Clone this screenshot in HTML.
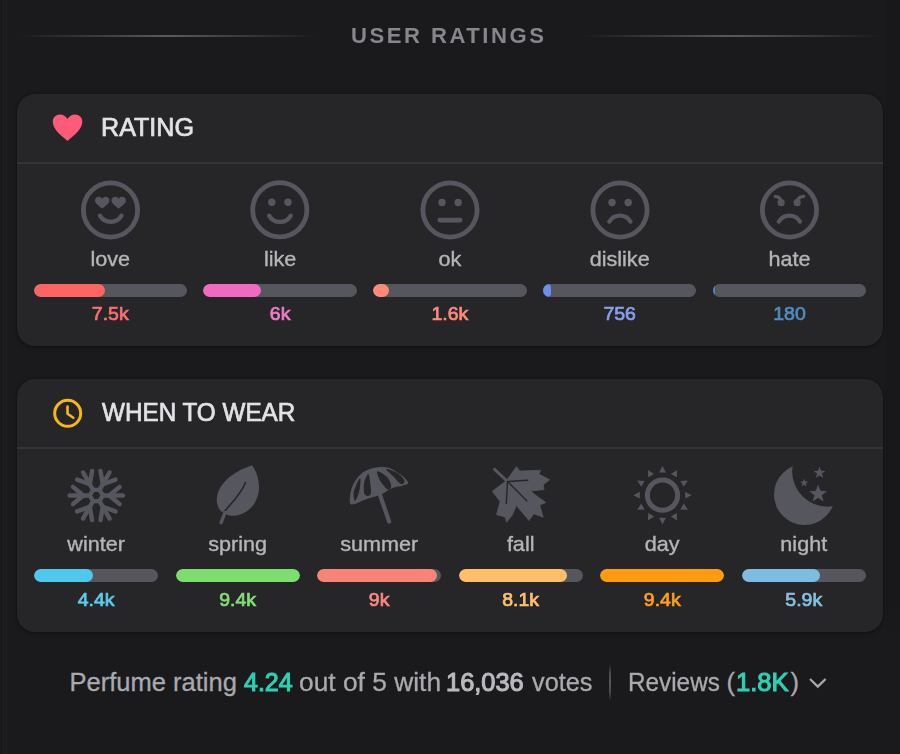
<!DOCTYPE html>
<html><head><meta charset="utf-8">
<style>
*{margin:0;padding:0;box-sizing:border-box}
html,body{width:900px;height:754px;overflow:hidden;background:#1a1a1d;font-family:"Liberation Sans",sans-serif}
.t{position:absolute;white-space:nowrap;line-height:30px;transform-origin:0 0}
.c{width:200px;text-align:center;transform-origin:50% 0}
#strip{position:absolute;left:886px;top:0;width:14px;height:754px;background:linear-gradient(180deg,#18181b 0,#18181b 600px,#1a1a1d 660px)}
.hline{position:absolute;top:35px;height:2px}
.card{position:absolute;left:17px;width:866px;background:#262629;border-radius:18px;box-shadow:0 0 1.5px rgba(0,0,0,0.5),0 2px 4px rgba(0,0,0,0.25)}
.card .div{position:absolute;left:0;right:0;height:2px;background:#343438}
.track{position:absolute;border-radius:7px;background:#56565f;overflow:hidden}
.fill{position:absolute;left:0;top:0;height:100%;border-radius:7px}
#ov{position:absolute;left:0;top:0}
</style></head><body>
<div id="strip"></div><div style="position:absolute;left:3px;top:0;width:1px;height:754px;background:#1e1e21"></div><div style="position:absolute;left:6px;top:0;width:1px;height:754px;background:#1e1e21"></div>
<div class="hline" style="left:18px;width:300px;background:linear-gradient(90deg,rgba(90,90,94,0),#5a5a5e 50%,rgba(90,90,94,0))"></div>
<div class="hline" style="left:582px;width:300px;background:linear-gradient(90deg,rgba(90,90,94,0),#5a5a5e 50%,rgba(90,90,94,0))"></div>
<div class="card" style="top:94px;height:251.5px"><div class="div" style="top:68px"></div></div>
<div class="card" style="top:379px;height:253px"><div class="div" style="top:68px"></div></div>
<div class="track" style="left:33.65px;top:283.8px;width:153.3px;height:12.9px"><div class="fill" style="width:71.4px;background:#ff6464"></div></div>
<div class="track" style="left:203.45px;top:283.8px;width:153.3px;height:12.9px"><div class="fill" style="width:58px;background:#f06ac0"></div></div>
<div class="track" style="left:373.25px;top:283.8px;width:153.3px;height:12.9px"><div class="fill" style="width:16px;background:#ff8a7a"></div></div>
<div class="track" style="left:543.05px;top:283.8px;width:153.3px;height:12.9px"><div class="fill" style="width:8px;background:#6e8ef0"></div></div>
<div class="track" style="left:712.85px;top:283.8px;width:153.3px;height:12.9px"><div class="fill" style="width:2.6px;background:#4a88c0"></div></div>
<div class="track" style="left:34.00px;top:568.7px;width:124.2px;height:13px"><div class="fill" style="width:58.7px;background:#4fc8ec"></div></div>
<div class="track" style="left:175.53px;top:568.7px;width:124.2px;height:13px"><div class="fill" style="width:124.2px;background:#7ddd6e"></div></div>
<div class="track" style="left:317.06px;top:568.7px;width:124.2px;height:13px"><div class="fill" style="width:120px;background:#f88478"></div></div>
<div class="track" style="left:458.59px;top:568.7px;width:124.2px;height:13px"><div class="fill" style="width:108px;background:#ffbe6a"></div></div>
<div class="track" style="left:600.12px;top:568.7px;width:124.2px;height:13px"><div class="fill" style="width:124.2px;background:#ff9b0f"></div></div>
<div class="track" style="left:741.65px;top:568.7px;width:124.2px;height:13px"><div class="fill" style="width:78.5px;background:#7fbde0"></div></div>
<div class="t" style="left:351.44px;top:21.10px;font-size:22px;font-weight:bold;letter-spacing:2.5px;color:#86868c;transform:scale(1.004,0.984);">USER RATINGS</div>
<div class="t" style="left:101.01px;top:111.53px;font-size:26px;-webkit-text-stroke:0.75px #e2e2e6;color:#e2e2e6;transform:scale(0.9656,0.9947);">RATING</div>
<div class="t" style="left:101.93px;top:396.53px;font-size:26px;-webkit-text-stroke:0.75px #e2e2e6;color:#e2e2e6;transform:scale(0.9337,0.9947);">WHEN TO WEAR</div>
<div class="t c" style="left:10.30px;top:245.25px;font-size:21.6px;-webkit-text-stroke:0.4px #b4b4b9;color:#b4b4b9;transform:scale(1.0,0.955);">love</div>
<div class="t c" style="left:10.30px;top:297.90px;font-size:19.5px;-webkit-text-stroke:0.75px currentColor;color:#ff6e6e;transform:scale(1.0,0.98);">7.5k</div>
<div class="t c" style="left:180.10px;top:245.25px;font-size:21.6px;-webkit-text-stroke:0.4px #b4b4b9;color:#b4b4b9;transform:scale(1.0,0.955);">like</div>
<div class="t c" style="left:180.10px;top:297.90px;font-size:19.5px;-webkit-text-stroke:0.75px currentColor;color:#f07cc8;transform:scale(1.0,0.98);">6k</div>
<div class="t c" style="left:349.90px;top:245.25px;font-size:21.6px;-webkit-text-stroke:0.4px #b4b4b9;color:#b4b4b9;transform:scale(1.0,0.955);">ok</div>
<div class="t c" style="left:349.90px;top:297.90px;font-size:19.5px;-webkit-text-stroke:0.75px currentColor;color:#ff8a7a;transform:scale(1.0,0.98);">1.6k</div>
<div class="t c" style="left:519.70px;top:245.25px;font-size:21.6px;-webkit-text-stroke:0.4px #b4b4b9;color:#b4b4b9;transform:scale(1.0,0.955);">dislike</div>
<div class="t c" style="left:519.70px;top:297.90px;font-size:19.5px;-webkit-text-stroke:0.75px currentColor;color:#8a9ef0;transform:scale(1.0,0.98);">756</div>
<div class="t c" style="left:689.50px;top:245.25px;font-size:21.6px;-webkit-text-stroke:0.4px #b4b4b9;color:#b4b4b9;transform:scale(1.0,0.955);">hate</div>
<div class="t c" style="left:689.50px;top:297.90px;font-size:19.5px;-webkit-text-stroke:0.75px currentColor;color:#4f8cc0;transform:scale(1.0,0.98);">180</div>
<div class="t c" style="left:-3.90px;top:530.45px;font-size:21.6px;-webkit-text-stroke:0.4px #b4b4b9;color:#b4b4b9;transform:scale(1.0,0.955);">winter</div>
<div class="t c" style="left:-3.90px;top:584.20px;font-size:19.5px;-webkit-text-stroke:0.75px currentColor;color:#5ccbec;transform:scale(1.0,0.98);">4.4k</div>
<div class="t c" style="left:137.63px;top:530.45px;font-size:21.6px;-webkit-text-stroke:0.4px #b4b4b9;color:#b4b4b9;transform:scale(1.0,0.955);">spring</div>
<div class="t c" style="left:137.63px;top:584.20px;font-size:19.5px;-webkit-text-stroke:0.75px currentColor;color:#86dd78;transform:scale(1.0,0.98);">9.4k</div>
<div class="t c" style="left:279.16px;top:530.45px;font-size:21.6px;-webkit-text-stroke:0.4px #b4b4b9;color:#b4b4b9;transform:scale(1.0,0.955);">summer</div>
<div class="t c" style="left:279.16px;top:584.20px;font-size:19.5px;-webkit-text-stroke:0.75px currentColor;color:#f88a80;transform:scale(1.0,0.98);">9k</div>
<div class="t c" style="left:420.69px;top:530.45px;font-size:21.6px;-webkit-text-stroke:0.4px #b4b4b9;color:#b4b4b9;transform:scale(1.0,0.955);">fall</div>
<div class="t c" style="left:420.69px;top:584.20px;font-size:19.5px;-webkit-text-stroke:0.75px currentColor;color:#ffc070;transform:scale(1.0,0.98);">8.1k</div>
<div class="t c" style="left:562.22px;top:530.45px;font-size:21.6px;-webkit-text-stroke:0.4px #b4b4b9;color:#b4b4b9;transform:scale(1.0,0.955);">day</div>
<div class="t c" style="left:562.22px;top:584.20px;font-size:19.5px;-webkit-text-stroke:0.75px currentColor;color:#ff9f1a;transform:scale(1.0,0.98);">9.4k</div>
<div class="t c" style="left:703.75px;top:530.45px;font-size:21.6px;-webkit-text-stroke:0.4px #b4b4b9;color:#b4b4b9;transform:scale(1.0,0.955);">night</div>
<div class="t c" style="left:703.75px;top:584.20px;font-size:19.5px;-webkit-text-stroke:0.75px currentColor;color:#86c0e0;transform:scale(1.0,0.98);">5.9k</div>
<div class="t" style="left:69.60px;top:666.75px;font-size:25.5px;color:#a9a9ae;-webkit-text-stroke:0.3px #a9a9ae;">Perfume rating</div>
<div class="t" style="left:244.26px;top:666.75px;font-size:25.5px;-webkit-text-stroke:1.1px currentColor;color:#2fd0b2;transform:scale(0.98,1);">4.24</div>
<div class="t" style="left:298.97px;top:666.75px;font-size:25.5px;color:#a9a9ae;-webkit-text-stroke:0.3px #a9a9ae;transform:scale(1.033,1);">out of 5 with</div>
<div class="t" style="left:446.26px;top:666.75px;font-size:25.5px;-webkit-text-stroke:1.1px currentColor;color:#b9b9be;transform:scale(0.996,1);">16,036</div>
<div class="t" style="left:532.00px;top:666.75px;font-size:25.5px;color:#a9a9ae;-webkit-text-stroke:0.3px #a9a9ae;transform:scale(0.992,1);">votes</div>
<div class="t" style="left:628.19px;top:666.75px;font-size:25.5px;color:#a9a9ae;-webkit-text-stroke:0.3px #a9a9ae;transform:scale(0.953,1);">Reviews</div>
<div class="t" style="left:726.50px;top:666.75px;font-size:25.5px;color:#a9a9ae;-webkit-text-stroke:0.3px #a9a9ae;">(</div>
<div class="t" style="left:735.54px;top:666.75px;font-size:25.5px;-webkit-text-stroke:1.1px currentColor;color:#2fd0b2;transform:scale(1.004,1);">1.8K</div>
<div class="t" style="left:790.45px;top:666.75px;font-size:25.5px;color:#a9a9ae;-webkit-text-stroke:0.3px #a9a9ae;">)</div>
<div style="position:absolute;left:609px;top:664px;width:2px;height:37px;background:linear-gradient(180deg,rgba(88,88,92,0),#4a4a4f 25%,#58585c 50%,#4a4a4f 75%,rgba(88,88,92,0))"></div>
<svg id="ov" width="900" height="754" viewBox="0 0 900 754">
<path d="M67.5 141 C60 134.5 52.8 129 52.8 121.5 C52.8 117.5 56 114.6 60 114.6 C63.2 114.6 66 116.5 67.5 119 C69 116.5 71.8 114.6 75 114.6 C79 114.6 82.3 117.5 82.3 121.5 C82.3 129 75 134.5 67.5 141Z" fill="#fe5a7a"/>
<circle cx="67.7" cy="413.3" r="13" fill="none" stroke="#f6b817" stroke-width="3"/>
<path d="M67.5 406.5 V413.8 L73.3 417.8" fill="none" stroke="#f6b817" stroke-width="2.6" stroke-linecap="round" stroke-linejoin="round"/>
<path d="M810 679 L817.8 686.6 L825.6 679" fill="none" stroke="#a9a9ae" stroke-width="2.2"/>
<circle cx="110.5" cy="210" r="27.1" fill="none" stroke="#56565f" stroke-width="4.8"/>
<path d="M102.20 208.60 C99.20 206.00 95.00 203.50 95.00 200.40 C95.00 198.00 96.90 196.70 98.70 196.70 C100.20 196.70 101.50 197.50 102.20 198.70 C102.90 197.50 104.20 196.70 105.70 196.70 C107.50 196.70 109.40 198.00 109.40 200.40 C109.40 203.50 105.20 206.00 102.20 208.60Z" fill="#56565f"/>
<path d="M118.70 208.60 C115.70 206.00 111.50 203.50 111.50 200.40 C111.50 198.00 113.40 196.70 115.20 196.70 C116.70 196.70 118.00 197.50 118.70 198.70 C119.40 197.50 120.70 196.70 122.20 196.70 C124.00 196.70 125.90 198.00 125.90 200.40 C125.90 203.50 121.70 206.00 118.70 208.60Z" fill="#56565f"/>
<path d="M99.90 215.60 A12.5 12.5 0 0 0 121.50 215.60" fill="none" stroke="#56565f" stroke-width="4.2" stroke-linecap="round"/>
<circle cx="279.8" cy="209.8" r="27.1" fill="none" stroke="#56565f" stroke-width="4.8"/>
<circle cx="271.80" cy="202.30" r="3.7" fill="#56565f"/>
<circle cx="288.00" cy="202.30" r="3.7" fill="#56565f"/>
<path d="M269.10 215.60 A12.5 12.5 0 0 0 290.80 215.60" fill="none" stroke="#56565f" stroke-width="4.2" stroke-linecap="round"/>
<circle cx="450" cy="210" r="27.1" fill="none" stroke="#56565f" stroke-width="4.8"/>
<circle cx="442.00" cy="202.50" r="3.7" fill="#56565f"/>
<circle cx="458.20" cy="202.50" r="3.7" fill="#56565f"/>
<line x1="439.80" y1="220.10" x2="460.20" y2="220.10" stroke="#56565f" stroke-width="4.6" stroke-linecap="round"/>
<circle cx="620" cy="210" r="27.1" fill="none" stroke="#56565f" stroke-width="4.8"/>
<circle cx="612.00" cy="202.50" r="3.7" fill="#56565f"/>
<circle cx="628.20" cy="202.50" r="3.7" fill="#56565f"/>
<path d="M609.30 221.60 A12.5 12.5 0 0 1 630.50 221.60" fill="none" stroke="#56565f" stroke-width="4.2" stroke-linecap="round"/>
<circle cx="789.5" cy="210" r="27.1" fill="none" stroke="#56565f" stroke-width="4.8"/>
<path d="M778.80 221.60 A12.5 12.5 0 0 1 800.00 221.60" fill="none" stroke="#56565f" stroke-width="4.2" stroke-linecap="round"/>
<circle cx="781.10" cy="202.70" r="3.6" fill="#56565f"/>
<path d="M775.30 196.40 Q781.10 197.00 781.10 202.70" fill="none" stroke="#56565f" stroke-width="3.2" stroke-linecap="round"/>
<circle cx="797.10" cy="202.70" r="3.6" fill="#56565f"/>
<path d="M803.70 196.40 Q797.10 197.00 797.10 202.70" fill="none" stroke="#56565f" stroke-width="3.2" stroke-linecap="round"/>
<polygon points="102.80,495.50 99.55,501.13 93.05,501.13 89.80,495.50 93.05,489.87 99.55,489.87" fill="none" stroke="#56565f" stroke-width="4.4" stroke-linejoin="round"/>
<line x1="102.80" y1="495.50" x2="122.90" y2="495.50" stroke="#56565f" stroke-width="4.4" stroke-linecap="round"/>
<line x1="109.30" y1="495.50" x2="119.64" y2="486.82" stroke="#56565f" stroke-width="4.4" stroke-linecap="round"/>
<line x1="109.30" y1="495.50" x2="119.64" y2="504.18" stroke="#56565f" stroke-width="4.4" stroke-linecap="round"/>
<line x1="99.55" y1="501.13" x2="109.60" y2="518.54" stroke="#56565f" stroke-width="4.4" stroke-linecap="round"/>
<line x1="102.80" y1="506.76" x2="115.49" y2="511.38" stroke="#56565f" stroke-width="4.4" stroke-linecap="round"/>
<line x1="102.80" y1="506.76" x2="100.46" y2="520.05" stroke="#56565f" stroke-width="4.4" stroke-linecap="round"/>
<line x1="93.05" y1="501.13" x2="83.00" y2="518.54" stroke="#56565f" stroke-width="4.4" stroke-linecap="round"/>
<line x1="89.80" y1="506.76" x2="92.14" y2="520.05" stroke="#56565f" stroke-width="4.4" stroke-linecap="round"/>
<line x1="89.80" y1="506.76" x2="77.11" y2="511.38" stroke="#56565f" stroke-width="4.4" stroke-linecap="round"/>
<line x1="89.80" y1="495.50" x2="69.70" y2="495.50" stroke="#56565f" stroke-width="4.4" stroke-linecap="round"/>
<line x1="83.30" y1="495.50" x2="72.96" y2="504.18" stroke="#56565f" stroke-width="4.4" stroke-linecap="round"/>
<line x1="83.30" y1="495.50" x2="72.96" y2="486.82" stroke="#56565f" stroke-width="4.4" stroke-linecap="round"/>
<line x1="93.05" y1="489.87" x2="83.00" y2="472.46" stroke="#56565f" stroke-width="4.4" stroke-linecap="round"/>
<line x1="89.80" y1="484.24" x2="77.11" y2="479.62" stroke="#56565f" stroke-width="4.4" stroke-linecap="round"/>
<line x1="89.80" y1="484.24" x2="92.14" y2="470.95" stroke="#56565f" stroke-width="4.4" stroke-linecap="round"/>
<line x1="99.55" y1="489.87" x2="109.60" y2="472.46" stroke="#56565f" stroke-width="4.4" stroke-linecap="round"/>
<line x1="102.80" y1="484.24" x2="100.46" y2="470.95" stroke="#56565f" stroke-width="4.4" stroke-linecap="round"/>
<line x1="102.80" y1="484.24" x2="115.49" y2="479.62" stroke="#56565f" stroke-width="4.4" stroke-linecap="round"/>
<circle cx="662.5" cy="495.2" r="15.1" fill="none" stroke="#56565f" stroke-width="5"/>
<polygon points="691.70,495.20 685.10,498.60 685.10,491.80" fill="#56565f"/>
<polygon points="687.79,509.80 680.37,509.44 683.77,503.56" fill="#56565f"/>
<polygon points="677.10,520.49 670.86,516.47 676.74,513.07" fill="#56565f"/>
<polygon points="662.50,524.40 659.10,517.80 665.90,517.80" fill="#56565f"/>
<polygon points="647.90,520.49 648.26,513.07 654.14,516.47" fill="#56565f"/>
<polygon points="637.21,509.80 641.23,503.56 644.63,509.44" fill="#56565f"/>
<polygon points="633.30,495.20 639.90,491.80 639.90,498.60" fill="#56565f"/>
<polygon points="637.21,480.60 644.63,480.96 641.23,486.84" fill="#56565f"/>
<polygon points="647.90,469.91 654.14,473.93 648.26,477.33" fill="#56565f"/>
<polygon points="662.50,466.00 665.90,472.60 659.10,472.60" fill="#56565f"/>
<polygon points="677.10,469.91 676.74,477.33 670.86,473.93" fill="#56565f"/>
<polygon points="687.79,480.60 683.77,486.84 680.37,480.96" fill="#56565f"/>
<defs><mask id="mm"><rect x="700" y="440" width="200" height="120" fill="#fff"/><circle cx="827.7" cy="471.1" r="35.6" fill="#000"/></mask></defs>
<circle cx="804.5" cy="494.5" r="30.5" fill="#56565f" mask="url(#mm)"/>
<polygon points="818.10,484.70 820.40,490.84 826.94,491.13 821.81,495.21 823.57,501.52 818.10,497.91 812.63,501.52 814.39,495.21 809.26,491.13 815.80,490.84" fill="#56565f"/>
<polygon points="819.50,466.60 821.03,470.69 825.40,470.88 821.98,473.60 823.14,477.82 819.50,475.40 815.86,477.82 817.02,473.60 813.60,470.88 817.97,470.69" fill="#56565f"/>
<polygon points="804.20,478.70 805.26,481.54 808.29,481.67 805.92,483.56 806.73,486.48 804.20,484.81 801.67,486.48 802.48,483.56 800.11,481.67 803.14,481.54" fill="#56565f"/>
<polygon points="506.5,480.5 516.4,466.7 519.9,471.1 540.6,470.2 538.9,474.1 549.6,479.7 543.2,484.8 544,489.6 531.1,490.9 535,494.8 545.8,502.5 539.7,505.1 543.2,517.2 533.7,513.7 529,520.6 516.4,505.5 512.1,515.4 506.5,522.3 505.2,517.2 496.6,514.6 500.1,501.7 492.3,491.3" fill="#56565f" stroke="#56565f" stroke-width="0.8" stroke-linejoin="round"/>
<line x1="494.6" y1="469.4" x2="507" y2="481" stroke="#56565f" stroke-width="3" stroke-linecap="round"/>
<path d="M507.5 481.5 L526.8 500.8 M507.5 481.5 L527.7 480.3 M507.5 481.5 L506.3 503.4" stroke="#262629" stroke-width="1.4" fill="none" stroke-linecap="round"/>
<path transform="translate(197.5 455.5)" d="M54.6 10 C40 14 19 27 19.3 45 C19.5 54 26 60.3 36 60.3 C53 59 62 44 61.5 31 C61.2 22 58.5 15 54.6 10Z" fill="#56565f"/>
<path transform="translate(197.5 455.5)" d="M25 58.5 C33 48 43 40 48 27" fill="none" stroke="#262629" stroke-width="1.6" stroke-linecap="round"/>
<path transform="translate(197.5 455.5)" d="M27.5 57 L23.6 67.2" fill="none" stroke="#56565f" stroke-width="3.4" stroke-linecap="round"/>
<path d="M350.06 503.17 C349.41 500.77 350.12 493.64 351.22 489.56 C352.32 485.47 354.33 481.78 356.67 478.67 C359.00 475.56 361.72 472.81 365.22 470.89 C368.72 468.97 373.78 467.67 377.67 467.16 C381.56 466.64 385.19 466.83 388.56 467.78 C391.93 468.72 395.17 471.08 397.89 472.83 C400.61 474.58 403.18 476.53 404.89 478.28 C406.60 480.03 408.55 482.10 408.16 483.33 C407.77 484.57 404.79 485.02 402.56 485.67 C400.33 486.32 397.11 486.51 394.78 487.22 C392.44 487.94 390.63 488.84 388.56 489.94 C386.48 491.05 384.41 492.80 382.33 493.83 C380.26 494.87 378.44 495.39 376.11 496.17 C373.78 496.94 370.93 497.59 368.33 498.50 C365.74 499.41 362.76 500.70 360.56 501.61 C358.35 502.52 356.86 503.69 355.11 503.94 C353.36 504.20 350.70 505.57 350.06 503.17 Z" fill="#56565f"/>
<path d="M360.17 478.28 C359.45 478.28 356.99 483.14 355.89 485.67 C354.79 488.19 353.69 490.92 353.56 493.44 C353.43 495.97 354.27 500.83 355.11 500.83 C355.95 500.83 357.77 495.97 358.61 493.44 C359.45 490.92 359.91 488.19 360.17 485.67 C360.43 483.14 360.88 478.28 360.17 478.28 Z" fill="#262629"/>
<path d="M368.33 474.00 C367.30 474.00 364.64 479.90 364.06 483.33 C363.47 486.77 363.73 492.73 364.83 494.61 C365.94 496.49 369.76 496.49 370.67 494.61 C371.57 492.73 370.67 486.77 370.28 483.33 C369.89 479.90 369.37 474.00 368.33 474.00 Z" fill="#262629"/>
<path d="M377.28 471.28 C376.18 471.93 378.64 477.95 380.39 481.00 C382.14 484.05 385.96 488.71 387.78 489.56 C389.59 490.40 391.41 488.13 391.28 486.06 C391.15 483.98 389.33 479.57 387.00 477.11 C384.67 474.65 378.38 470.63 377.28 471.28 Z" fill="#262629"/>
<path d="M386.22 468.94 C385.44 469.40 389.98 473.03 392.44 475.56 C394.91 478.08 398.99 483.27 401.00 484.11 C403.01 484.95 405.15 482.49 404.50 480.61 C403.85 478.73 400.16 474.78 397.11 472.83 C394.07 470.89 387.00 468.49 386.22 468.94 Z" fill="#262629"/>
<line x1="380" y1="495" x2="389.2" y2="521.6" stroke="#56565f" stroke-width="4.2" stroke-linecap="round"/>
</svg>
</body></html>
